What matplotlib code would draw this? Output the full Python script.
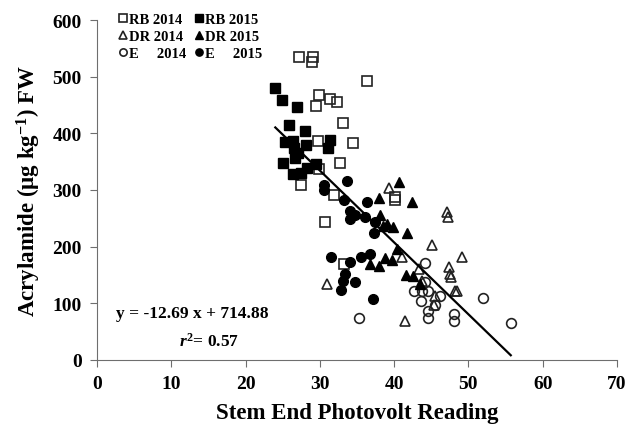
import matplotlib
matplotlib.use("Agg")
import matplotlib.pyplot as plt
import numpy as np

# values
rb14_x = [27.2, 29.1, 28.9, 36.4, 29.9, 31.4, 32.3, 29.5, 33.1, 34.4, 29.7, 32.7, 29.9, 27.5, 31.9, 40.1, 40.1, 30.7, 33.2]
rb14_y = [535, 534, 525, 492, 468, 461, 456, 449, 418, 383, 387, 348, 337, 308, 291, 287, 282, 243, 169]

rb15_x = [24.0, 24.9, 26.9, 25.8, 28.0, 25.3, 26.4, 28.2, 31.3, 31.1, 26.5, 26.6, 25.1, 29.5, 26.4, 27.5, 28.3, 27.0]
rb15_y = [480, 459, 447, 415, 404, 385, 387, 379, 388, 374, 374, 357, 348, 346, 328, 329, 338, 365]

dr14_x = [39.3, 41.0, 30.9, 47.1, 47.2, 45.1, 49.2, 41.5, 43.4, 47.4, 47.5, 47.6, 48.2, 48.5, 45.5, 45.4, 43.7]
dr14_y = [303, 181, 133, 261, 252, 203, 181, 68, 160, 164, 152, 146, 121, 121, 113, 97, 140]

dr15_x = [40.7, 38.0, 42.4, 38.1, 39.1, 39.9, 38.5, 41.7, 40.4, 36.8, 37.9, 38.8, 39.7, 41.6, 42.6, 43.5]
dr15_y = [314, 285, 278, 255, 240, 234, 237, 224, 196, 169, 166, 180, 177, 149, 148, 134]

e14_x = [44.1, 44.1, 42.7, 43.7, 44.6, 43.6, 46.2, 44.6, 44.6, 48.0, 48.0, 52.0, 55.7, 35.3, 45.5]
e14_y = [171, 137, 121, 121, 122, 104, 113, 87, 74, 81, 69, 109, 65, 74, 97]

e15_x = [33.6, 30.5, 30.5, 33.2, 36.3, 34.0, 34.0, 34.7, 36.1, 37.4, 37.3, 31.5, 34.1, 35.6, 36.8, 33.4, 33.1, 34.7, 32.8, 37.1]
e15_y = [316, 308, 299, 283, 278, 263, 249, 256, 252, 243, 224, 181, 173, 181, 187, 152, 140, 137, 124, 108]

fit_slope = -12.69
fit_int = 714.88

plt.rcParams['font.family'] = 'Liberation Serif'
plt.rcParams['font.weight'] = 'bold'
plt.rcParams['mathtext.fontset'] = 'custom'
plt.rcParams['mathtext.rm'] = 'Liberation Serif:bold'
plt.rcParams['mathtext.bf'] = 'Liberation Serif:bold'
plt.rcParams['mathtext.it'] = 'Liberation Serif:italic:bold'

fig = plt.figure(figsize=(6.26, 4.27), dpi=100)
ax = fig.add_axes([0.155, 0.155, 0.8306, 0.7958])

ms = 7
ec = '#222222'
ax.plot(rb14_x, rb14_y, 's', ms=ms, mfc='none', mec=ec, mew=1.2, label='RB 2014')
ax.plot(dr14_x, dr14_y, '^', ms=ms, mfc='none', mec=ec, mew=1.2, label='DR 2014')
ax.plot(e14_x, e14_y, 'o', ms=ms, mfc='none', mec=ec, mew=1.2, label='E     2014')
ax.plot(rb15_x, rb15_y, 's', ms=ms, mfc='black', mec='black', label='RB 2015')
ax.plot(dr15_x, dr15_y, '^', ms=ms, mfc='black', mec='black', label='DR 2015')
ax.plot(e15_x, e15_y, 'o', ms=ms, mfc='black', mec='black', label='E     2015')

all_x = np.array(rb14_x + rb15_x + dr14_x + dr15_x + e14_x + e15_x)
fx = np.array([all_x.min(), all_x.max()])
ax.plot(fx, fit_slope * fx + fit_int, color='black', lw=1.6, zorder=5)

ax.set_xlim(0, 70)
ax.set_ylim(0, 600)
ax.set_xticks(np.arange(0, 71, 10))
ax.set_yticks(np.arange(0, 601, 100))
for s in ['top', 'right']:
    ax.spines[s].set_visible(False)
for s in ['left', 'bottom']:
    ax.spines[s].set_color('#6e6e6e')
ax.tick_params(direction='out', length=5, color='#6e6e6e', labelsize=14, pad=6)

ax.set_xlabel('Stem End Photovolt Reading', fontsize=16.5, fontweight='bold', labelpad=7)
ax.set_ylabel(r'Acrylamide (µg kg$^{-1}$) FW', fontsize=16.5, fontweight='bold', labelpad=7)

ax.text(2.5, 76, 'y = -12.69 x + 714.88', fontsize=12.5, fontweight='bold')
ax.text(11, 25, r'$\it{r}^{2}$= 0.57', fontsize=12.5, fontweight='bold')

ax.legend(loc='upper left', bbox_to_anchor=(0.022, 1.05), ncol=2, frameon=False,
          fontsize=10.5, markerscale=0.75, handlelength=0.6, handletextpad=0.1,
          columnspacing=0.6, labelspacing=0.25, borderpad=0.2)

fig.savefig('out.png', dpi=100)
